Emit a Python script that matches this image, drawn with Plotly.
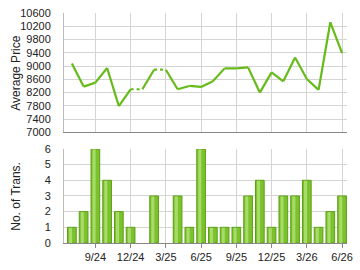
import plotly.graph_objects as go

months = ["7/24","8/24","9/24","10/24","11/24","12/24","1/25","2/25","3/25","4/25","5/25","6/25",
          "7/25","8/25","9/25","10/25","11/25","12/25","1/26","2/26","3/26","4/26","5/26","6/26"]
avg_price = [9080, 8380, 8500, 8940, 7790, 8300, None, 8890, None, 8300, 8400, 8370,
             8540, 8930, 8930, 8960, 8200, 8810, 8540, 9260, 8610, 8280, 10320, 9390]
transactions = [1, 2, 6, 4, 2, 1, 0, 3, 0, 3, 1, 6, 1, 1, 1, 3, 4, 1, 3, 3, 4, 1, 2, 3]
tick_labels = ["9/24", "12/24", "3/25", "6/25", "9/25", "12/25", "3/26", "6/26"]

idx = list(range(len(months)))
tickvals = [months.index(t) for t in tick_labels]

# carry forward missing values
filled = []
last = None
for v in avg_price:
    if v is None:
        filled.append(last)
    else:
        filled.append(v)
        last = v

green = "#66bb1a"
solid_x, solid_y, dot_x, dot_y = [], [], [], []
for i in range(len(idx) - 1):
    if avg_price[i + 1] is None:
        dot_x += [idx[i], idx[i + 1], None]
        dot_y += [filled[i], filled[i + 1], None]
    else:
        solid_x += [idx[i], idx[i + 1], None]
        solid_y += [filled[i], filled[i + 1], None]

fig = go.Figure()
fig.add_trace(go.Scatter(x=solid_x, y=solid_y, mode="lines",
                         line=dict(color=green, width=2.2), xaxis="x", yaxis="y",
                         hoverinfo="skip"))
fig.add_trace(go.Scatter(x=dot_x, y=dot_y, mode="lines",
                         line=dict(color=green, width=2.2, dash="dot"), xaxis="x", yaxis="y",
                         hoverinfo="skip"))

bar_vals = [t if t > 0 else None for t in transactions]
hi_vals = [t - 0.03 if t > 0 else None for t in transactions]
# bars: outer body + highlight stripe
fig.add_trace(go.Bar(x=idx, y=bar_vals, width=0.74,
                     marker=dict(color="#7cc22c", line=dict(color="#5d9f15", width=1)),
                     xaxis="x2", yaxis="y2"))
fig.add_trace(go.Bar(x=idx, y=hi_vals, width=0.26, offset=-0.24,
                     marker=dict(color="#a8dc6a", line=dict(width=0)),
                     xaxis="x2", yaxis="y2"))

xr = [-0.67, 23.42]
grid = "#d4d4d4"
font = dict(family="Liberation Sans, Arial, sans-serif", size=11, color="#222")
tf = dict(size=11, color="#222")

fig.update_layout(
    width=360, height=270,
    margin=dict(l=64, r=7, t=7, b=26),
    paper_bgcolor="white", plot_bgcolor="white",
    showlegend=False, barmode="overlay", font=font,
    xaxis=dict(domain=[0, 1], range=xr, tickvals=tickvals, showticklabels=False,
               showgrid=True, gridcolor=grid, gridwidth=1, zeroline=False,
               showline=True, linecolor="#888", linewidth=1, anchor="y", ticks=""),
    yaxis=dict(domain=[0.481, 1], range=[7000, 10600], tickvals=list(range(7000, 10601, 400)),
               tickformat="d",
               showgrid=True, gridcolor=grid, gridwidth=1, zeroline=False,
               showline=True, linecolor="#bbb", linewidth=1, ticks="",
               ticklabelstandoff=10, tickfont=tf),
    xaxis2=dict(domain=[0, 1], range=xr, tickvals=tickvals, ticktext=tick_labels,
                showgrid=True, gridcolor=grid, gridwidth=1, zeroline=False,
                showline=True, linecolor="#888", linewidth=1, anchor="y2",
                ticks="outside", ticklen=4, tickcolor="#888", tickfont=tf),
    yaxis2=dict(domain=[0, 0.409], range=[0, 6], tickvals=list(range(0, 7)),
                showgrid=True, gridcolor=grid, gridwidth=1, zeroline=False,
                showline=True, linecolor="#bbb", linewidth=1, ticks="", anchor="x2",
                ticklabelstandoff=10, tickfont=tf),
    annotations=[
        dict(text="Average Price", xref="paper", yref="paper", x=-0.17, y=0.74,
             textangle=-90, showarrow=False, font=dict(size=12, color="#222"),
             xanchor="center", yanchor="middle"),
        dict(text="No. of Trans.", xref="paper", yref="paper", x=-0.17, y=0.205,
             textangle=-90, showarrow=False, font=dict(size=12, color="#222"),
             xanchor="center", yanchor="middle"),
    ],
)

fig.write_html("out.html")
